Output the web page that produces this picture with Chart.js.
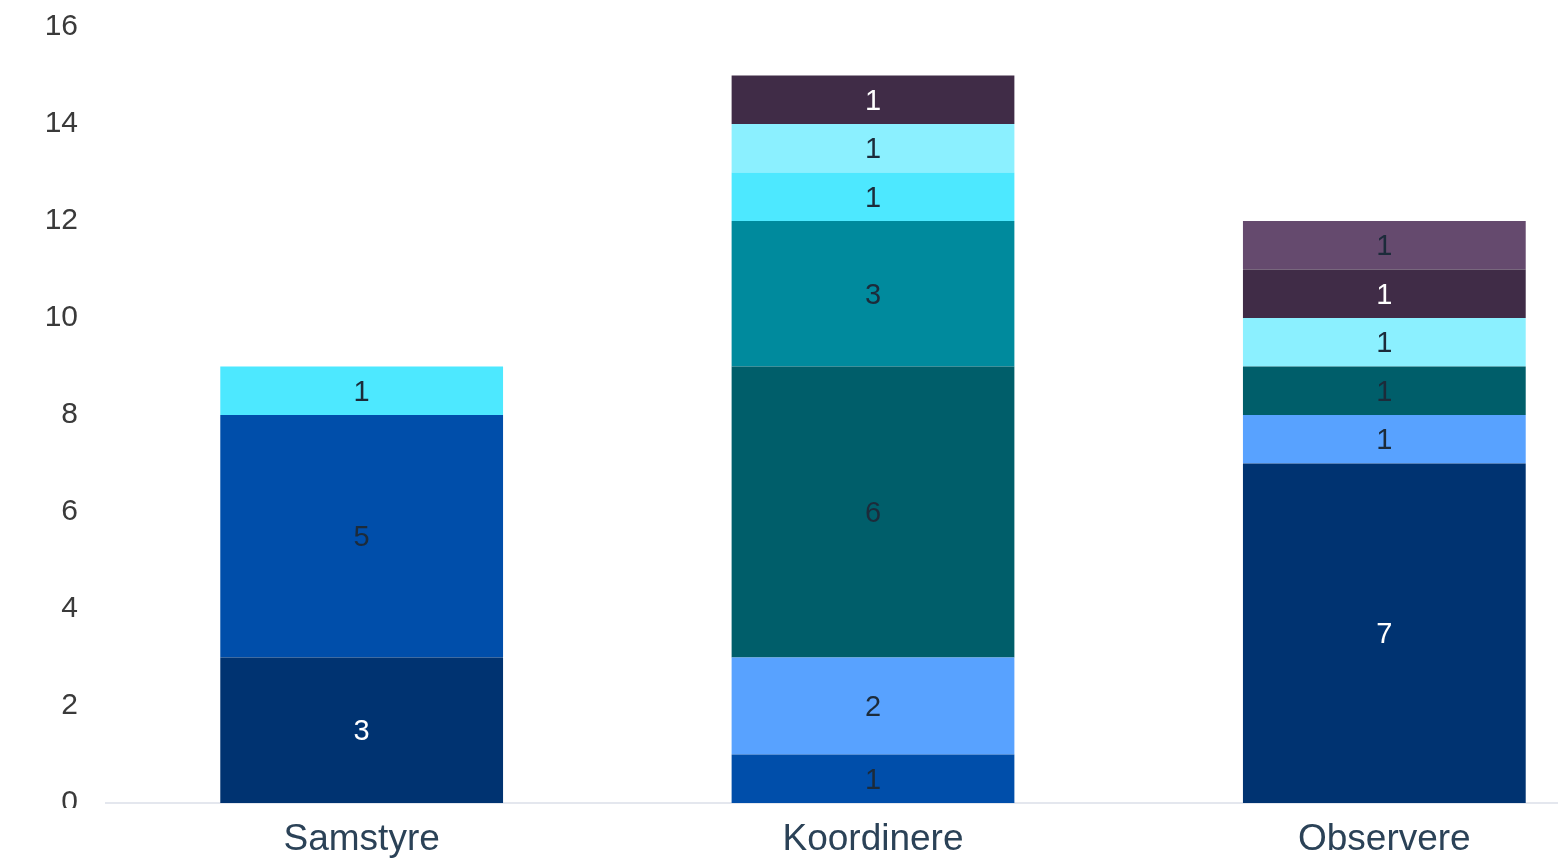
<!DOCTYPE html>
<html>
<head>
<meta charset="utf-8">
<script src="https://cdn.jsdelivr.net/npm/chart.js@4"></script>
<style>
  html, body { margin: 0; padding: 0; background: #ffffff; overflow: hidden; }
  .wrap { position: absolute; left: 0; top: 0; width: 1640px; height: 860px; }
</style>
</head>
<body>
<div class="wrap"><canvas id="myChart"></canvas></div>
<script>
const categories = ["Samstyre", "Koordinere", "Observere"];

// one series per colour, stacked bottom to top
const navy       = [3, 0, 7];
const blue       = [5, 1, 0];
const lightBlue  = [0, 2, 1];
const darkTeal   = [0, 6, 1];
const teal       = [0, 3, 0];
const cyan       = [1, 1, 0];
const lightCyan  = [0, 1, 1];
const darkPurple = [0, 1, 1];
const purple     = [0, 0, 1];

const yTicks = [0, 2, 4, 6, 8, 10, 12, 14, 16];

const series = [
    { data: navy,       color: '#003371', text: '#ffffff' },
    { data: blue,       color: '#004EAA', text: '#1c2b3a' },
    { data: lightBlue,  color: '#58A2FF', text: '#1c2b3a' },
    { data: darkTeal,   color: '#005E6A', text: '#1c2b3a' },
    { data: teal,       color: '#008A9D', text: '#1c2b3a' },
    { data: cyan,       color: '#4DE8FF', text: '#1c2b3a' },
    { data: lightCyan,  color: '#8BF0FF', text: '#1c2b3a' },
    { data: darkPurple, color: '#402C47', text: '#ffffff' },
    { data: purple,     color: '#654A6E', text: '#1c2b3a' }
];

const font = '"Liberation Sans", Arial, sans-serif';
const ctx = document.getElementById('myChart');

// writes each segment's value in the middle of the segment
const segmentLabels = {
    id: 'segmentLabels',
    afterDatasetsDraw(chart) {
        const c = chart.ctx;
        c.save();
        c.font = '29px ' + font;
        c.textAlign = 'center';
        c.textBaseline = 'middle';
        chart.data.datasets.forEach((ds, i) => {
            const meta = chart.getDatasetMeta(i);
            meta.data.forEach((bar, j) => {
                const v = ds.data[j];
                if (!v) return;
                c.fillStyle = series[i].text;
                c.fillText(String(v), bar.x, (bar.y + bar.base) / 2 + 2);
            });
        });
        c.restore();
    }
};

// the bottom of the "0" tick sits under the axis strip
const axisStrip = {
    id: 'axisStrip',
    afterDraw(chart) {
        const c = chart.ctx;
        const a = chart.chartArea;
        c.save();
        c.fillStyle = '#ffffff';
        c.fillRect(0, a.bottom + 5, a.left - 8, 14);
        c.restore();
    }
};

const data = {
    labels: categories,
    datasets: series.map((s, i) => ({
        label: 'S' + i,
        data: s.data,
        backgroundColor: s.color,
        borderWidth: 0,
        categoryPercentage: 1,
        barPercentage: 0.553
    }))
};

const config = {
    type: 'bar',
    data: data,
    plugins: [segmentLabels, axisStrip],
    options: {
        responsive: true,
        maintainAspectRatio: false,
        animation: false,
        layout: { padding: { left: 42, top: 27, right: 0, bottom: 0 } },
        plugins: {
            legend: { display: false },
            tooltip: { enabled: false }
        },
        scales: {
            x: {
                stacked: true,
                grid: { display: false },
                border: { display: true, color: '#E4E7EE', width: 2 },
                afterFit: (axis) => { axis.height = 57; },
                ticks: {
                    color: '#2B4257',
                    padding: 7,
                    font: { family: font, size: 37 }
                }
            },
            y: {
                stacked: true,
                min: 0,
                max: 16,
                afterBuildTicks: (axis) => { axis.ticks = yTicks.map(v => ({ value: v })); },
                afterFit: (axis) => {
                    axis.width = 64;
                    axis.paddingTop = 0;
                    axis.paddingBottom = 0;
                },
                grid: { display: false, drawTicks: false },
                border: { display: false },
                ticks: {
                    color: '#3a3a3a',
                    padding: 28,
                    font: { family: font, size: 30 }
                }
            }
        }
    }
};

let myChart = new Chart(ctx, config);
</script>
</body>
</html>
